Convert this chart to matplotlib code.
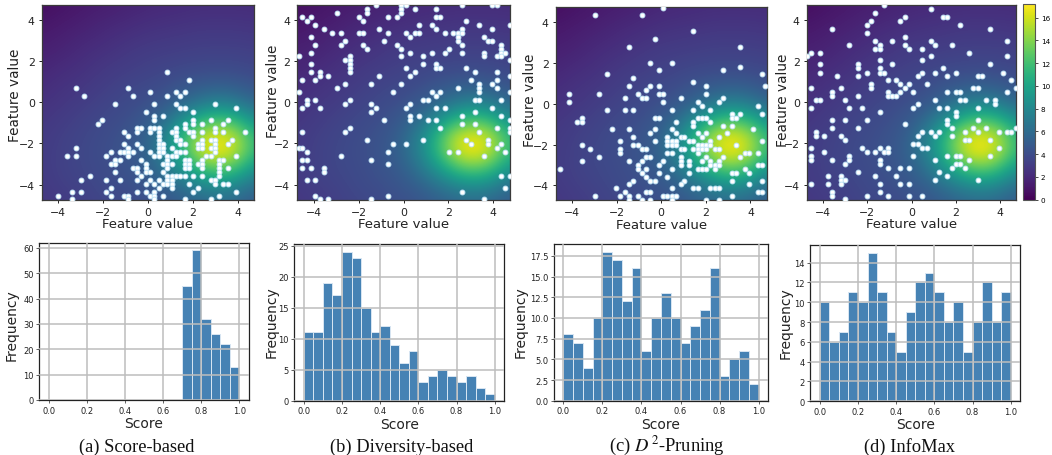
import matplotlib
matplotlib.use("Agg")
import matplotlib.pyplot as plt
import matplotlib.ticker as mticker
import numpy as np

W, H = 1052, 456
plt.rcParams['font.family'] = ['DejaVu Sans']
plt.rcParams['mathtext.fontset'] = 'stix'

# Estimated density field (coarse samples, top row = y 4.7, bottom row = y -4.7)
density = [
 [0.6,0.9,1.1,1.3,1.5,1.7,1.9,2.0,2.1,2.2,2.2,2.2,2.2],
 [1.0,1.2,1.4,1.7,1.9,2.1,2.3,2.4,2.5,2.6,2.6,2.6,2.5],
 [1.3,1.5,1.8,2.0,2.3,2.5,2.7,2.8,2.9,3.0,3.0,3.0,2.9],
 [1.6,1.8,2.1,2.4,2.6,2.9,3.1,3.2,3.3,3.4,3.4,3.4,3.3],
 [1.9,2.2,2.4,2.7,3.0,3.2,3.4,3.6,3.8,3.9,4.0,3.9,3.7],
 [2.2,2.5,2.7,3.0,3.3,3.6,3.8,4.1,4.6,5.0,5.2,5.0,4.5],
 [2.5,2.7,3.0,3.3,3.6,3.9,4.2,4.8,5.8,7.0,7.7,7.0,5.8],
 [2.7,3.0,3.3,3.6,3.9,4.2,4.9,6.2,8.6,11.0,12.0,11.0,8.4],
 [2.9,3.2,3.5,3.8,4.1,4.5,5.5,7.8,11.5,15.3,16.6,14.8,11.0],
 [3.0,3.3,3.6,3.9,4.2,4.6,5.7,8.0,11.8,15.8,17.1,15.2,11.2],
 [3.0,3.3,3.6,3.8,4.1,4.5,5.2,6.9,9.5,12.3,13.4,12.0,9.0],
 [2.9,3.2,3.4,3.7,4.0,4.2,4.7,5.5,6.8,8.2,8.9,8.1,6.4],
 [2.7,3.0,3.2,3.5,3.7,4.0,4.2,4.6,5.2,5.8,6.1,5.7,5.0],
]

# Selected samples: (y, [x, ...])
points_a = [
 (1.45,[.85]),(1.07,[1.85]),(.68,[-3.2,-.88]),(.48,[.09,1.25,1.64]),(.29,[-2.83,-.68,.86,1.44]),
 (-.10,[-1.46,.28,1.25,2.98]),(-.29,[1.44,1.64,3.94]),(-.49,[-.10,2.02]),(-.68,[.28,.67]),(-.86,[-2.04]),
 (-.88,[.28,2.02,2.80,3.56]),(-1.07,[-2.23,1.64,2.02,2.41,3.36]),
 (-1.25,[-.49,-.30,.09,.28,.48,1.25,1.64,2.98]),
 (-1.44,[-1.07,-.49,.09,.48,1.06,1.25,1.83,2.02,2.41,2.98,3.36,4.33]),
 (-1.64,[-.88,.48,1.25,2.02]),(-1.83,[.48,1.25,1.44,2.41,2.80,2.98,3.75]),
 (-2.02,[-1.07,-.49,.48,.67,1.44,1.64,2.22,2.41,2.98,3.56]),
 (-2.22,[-3.2,-.88,-.30,.48,.67,1.06,2.22,2.41,2.80,2.98]),
 (-2.41,[-1.65,-1.26,-1.07,-.88,-.68,.09,.48,.67,1.25,1.44,1.64,2.98]),
 (-2.61,[-3.6,-3.2,-1.85,-.88,.28,.48,.86,1.06,1.25,2.60,2.80,3.94]),
 (-2.80,[-1.46,-1.26,-.30,.86,1.64,1.83,2.41,3.17,3.36]),
 (-3.0,[-1.65,-1.46,-.10,.67,.86,1.06,1.64,1.83,2.22,2.41,3.17]),
 (-3.19,[-.68,-.49,-.10,.86,1.64,1.83,2.41,3.17,3.56]),
 (-3.38,[-1.46,-.49,-.10,.09,.67,3.17]),
 (-3.58,[-2.59,-.30,.86,1.06,1.25,1.44,1.64,2.02,2.41,3.17]),
 (-3.77,[-3.0,-1.85,-1.26,-.49,.09,.48,.86,1.06,2.80,2.98]),
 (-3.97,[-.10,.28,.67,.86,1.06,1.83,2.98,3.36,3.56]),
 (-4.16,[-1.65,.48,1.06,2.22]),
 (-4.35,[-3.4,-3.0,-1.85,-.49,-.10,.28,2.02,3.94]),
 (-4.55,[-4.0,-1.65,-1.07,-.88,.09,.28,.67,3.17]),
 (-4.70,[-3.4,-.88,.28,1.64,2.80]),
]
points_b = [
 (4.72,[-1.24,-.09,.10,2.61,3.96,4.15]),(4.54,[-1.63,-.09,.49,1.45]),(4.34,[-2.96,-1.63,-.09]),
 (4.15,[-4.5,-4.12,-2.0,-.67,-.28,1.45,1.64]),(3.95,[-4.31,-1.82,2.80]),(3.76,[-3.93,.68,1.26,3.38,4.73]),
 (3.57,[-3.56,-1.07,1.45,2.61,3.96]),(3.37,[-3.17,-2.79,-2.0,-1.82,-.67,.10,.49,.68,1.84,2.22,2.41,2.61]),
 (3.18,[-4.12,.30,2.41,3.57]),(2.98,[-2.59,-.86,2.41,3.76,3.96]),(2.79,[-3.93,-2.79,-1.82,-.28,2.61,4.34]),
 (2.59,[-1.63,-.09,2.03,4.34]),(2.41,[-4.12,.30,1.26,1.84,2.61,3.57,4.34,4.53]),
 (2.22,[-4.67,-2.4,-.09,.87,3.57,4.15,4.34]),(2.03,[-2.59,-2.4,4.73]),(1.83,[-4.12,-2.4,.87,1.45]),
 (1.65,[-2.4,.10,1.45,1.64,2.80]),(1.46,[-4.12,-3.73,-2.4,.49,3.19,4.15]),(1.26,[-3.73,-3.36,-1.07,.30,4.73]),
 (1.07,[-4.5,-3.93,2.99,4.15]),(.88,[-2.59,-1.44,-.09,3.38,3.96]),(.68,[-2.96,2.41,3.38,4.15]),
 (.49,[-4.67,-.47,1.26,1.64,3.38,4.73]),(.29,[1.45]),(.10,[-4.31,-3.93,-2.4,.87,1.07,3.19,3.38,4.34]),
 (-.10,[-4.31,-2.59,-1.44,.30]),(-.28,[-4.5,-3.73,-1.24,.10,1.45,1.84,3.96]),(-.47,[-1.44,3.19]),
 (-.66,[.30,.68,2.61,4.34]),(-.86,[-.86,.30,1.07,1.45,4.73]),(-1.07,[2.61,3.19]),(-1.25,[-2.4,1.64,4.15,4.73]),
 (-1.44,[-4.5,-2.59,3.38,4.73]),(-1.83,[-1.63,.87,2.80,3.76]),(-2.03,[-.47,.10,2.99,3.76,4.34]),
 (-2.22,[-4.67,-4.5,4.15]),(-2.41,[-4.31,-.67,2.03,2.41,4.53]),(-2.61,[-2.79,3.57]),(-2.79,[-4.5,-4.31,-1.44]),
 (-2.98,[-.67]),(-3.18,[-4.5,-4.12,-3.56]),(-3.37,[-3.56]),(-3.58,[4.34,4.73]),(-3.78,[-4.31,-3.93]),
 (-4.15,[4.53]),(-4.34,[2.61]),(-4.54,[-3.93,-.67]),(-4.70,[-3.73,-3.36,-1.44,3.57]),
]
points_c = [
 (4.68,[.09]),(4.32,[-2.98,-.87]),(3.56,[1.43]),(3.18,[-.3]),(2.79,[-1.45,3.54]),(2.0,[-.49,.48]),
 (1.81,[3.54]),(1.63,[-.1,2.78]),(1.44,[-2.42,4.51]),(1.24,[-1.25]),(1.04,[1.43]),
 (.86,[-1.45,-.48,-.09,2.01,4.66]),(.67,[-.67]),(.47,[-4.15,-2.79,-1.06,-.09,.09,2.01]),
 (.28,[-1.64,-.87,-.67,.87,2.78]),(.08,[-4.15,.09,1.63,2.58]),(-.11,[1.82,4.33]),
 (-.29,[-2.42,-1.64,-1.25,.48,1.43,2.21]),(-.49,[3.16,3.55,4.52]),
 (-.69,[-3.57,-.28,-.09,1.63,1.82,2.01,3.16,3.36]),(-.88,[-3.76,-3.57,.67,1.43,2.21]),(-1.08,[1.43,2.78,3.16]),
 (-1.26,[-2.22,-1.45,-.28,.48,4.13]),(-1.45,[-.48,.67,1.63,2.01,2.97]),(-1.63,[-1.25,.28,.87,1.04,1.82,2.58]),
 (-1.83,[-1.84,-.28,.28,.48,.67,1.24,1.43,2.21,4.52]),
 (-2.02,[-3.57,-1.25,-1.06,.28,.48,.67,1.63,1.82,2.01,2.21,3.36]),
 (-2.22,[-3.18,-1.84,-.87,-.67,.87,1.04,1.43,1.63,1.82,2.01,2.40,2.58]),
 (-2.41,[-1.84,.28,.48,1.63,3.75,3.94,4.33]),(-2.61,[-2.79,-.67,-.48,.87,2.01,2.78,3.55]),
 (-2.81,[-3.57,-1.45,-.87,.09,.87,1.24,1.82,2.21,2.58]),(-3.0,[-1.06,-.09,.87,1.24,2.21,2.40,2.58,4.33,4.52]),
 (-3.18,[-4.54]),(-3.2,[-1.06,-.67,.48,1.63,1.82,2.01,2.40,3.75]),(-3.39,[-.87,-.09,1.24,3.16,3.36,3.94]),
 (-3.59,[-.67,.28]),(-3.78,[-1.25,-.48,-.28,1.04,3.16,4.52]),(-3.95,[-1.45,.87,3.94]),
 (-4.14,[-2.01,.48,1.43,1.63,2.21,2.40,2.58]),(-4.34,[-1.64,-.67,-.48,4.33,4.52]),
 (-4.53,[-2.98,-1.84,-1.45,-1.06,.09,.28,.48,.67,3.16]),(-4.71,[-1.45,-.87,-.48,.48,2.01,2.58]),
]
points_d = [
 (4.7,[-1.25]),(4.54,[.86]),(4.34,[-1.64]),(4.15,[-.3,1.43,1.62]),(3.95,[-1.83,-.5]),(3.76,[-2.03,2.21]),
 (3.57,[-3.58,3.56]),(3.37,[-2.03]),(3.18,[-.3]),(2.98,[-1.64,-.87,.86,4.33]),(2.79,[-2.81,-1.44,-.3,1.05,1.82]),
 (2.59,[-1.64,-1.44,-.11,.48]),(2.41,[-4.53,-4.14,2.59]),(2.22,[-4.73,.86,4.33]),(2.03,[-1.44,.48]),
 (1.83,[-4.14,-2.41,-.87,3.56]),(1.64,[-2.41,-1.44,1.43]),(1.44,[-4.14,-2.03,-1.44,-1.25,.48,1.05,2.02,4.14]),
 (1.25,[-3.38,-2.41,.29,1.62,2.98,3.17]),(1.07,[-1.07,-.68,4.51]),(.88,[-1.83,-.5,-.11,.68]),
 (.68,[-4.53,-3.19,-1.83,-.3,2.78,2.98,4.71]),(.49,[-3.58,-1.07,-.5,.09,1.62,2.02,2.21,4.33]),
 (.29,[-3.58,-2.41,-1.07,-.87,-.68]),(.10,[-4.33,-4.14,-2.99,1.05,2.21,2.41,3.37,3.76]),(-.10,[.29,3.76]),
 (-.28,[-4.53,-2.81,-2.23,.09,1.25,1.62,2.98]),(-.49,[-1.44,2.02]),(-.68,[2.02]),
 (-.88,[-3.58,-2.99,-2.03,1.62,2.98]),(-1.07,[-.3,1.62]),(-1.26,[-3.58,-2.41,1.82,2.78,3.37,4.71]),
 (-1.44,[-4.33,.48,.86,1.25,2.41,2.98,3.95,4.33,4.51]),(-1.64,[-4.33,-3.95,-3.19,.29,1.05,1.82]),
 (-1.83,[-2.99,2.41,2.59,3.56]),(-2.03,[.09,.29]),(-2.22,[-4.53,-2.23,-1.44,-1.07,.48,.68,3.95]),
 (-2.41,[-3.95,-2.03,-1.64,-1.25,-1.07]),(-2.59,[-4.53,-2.81,.09,1.62,2.02,2.21,3.56]),
 (-2.79,[-4.53,-3.58,-2.81,-1.44,1.05,2.59]),(-2.98,[-2.99,-1.44,2.02,2.21]),(-3.18,[-1.07,-.5,-.11,1.82,2.41]),
 (-3.37,[-2.41,1.25]),(-3.57,[-3.76,-3.19,-1.64,-.68,1.62]),(-3.76,[-3.19,-2.99,1.05,2.98]),
 (-3.95,[-4.53,-3.76,-3.19,-1.44,-.5,-.11]),(-4.34,[-3.58,-1.44]),(-4.54,[-3.58,-2.03,-1.07,-.11,.48]),
 (-4.72,[-2.99]),
]

hist_a = [0]*14 + [45,59,32,26,22,13]
hist_b = [11,11,19,17,24,23,15,11,12,9,6,8,3,4,5,4,3,4,2,1]
hist_c = [8,7,4,10,18,17,12,16,6,10,13,10,7,9,11,16,3,5,6,2]
hist_d = [10,6,7,11,10,15,11,7,5,9,12,13,11,8,10,5,8,12,8,11]

captions = ['(a) Score-based', '(b) Diversity-based', r'(c) $D^{\,2}$-Pruning', '(d) InfoMax']
caption_cx = [137, 402, 667, 910]
heat_box = [(41.7,254,5.7,200.7),(297.3,509.7,5.7,200.7),(555.7,766.7,8,201.3),(806.7,1016.3,5.7,200.7)]
hist_box = [(39.3,248.7,244,401),(294.3,504.3,245.3,401.7),(553.7,768.3,245.3,401.7),(810.3,1020.3,246.3,402.3)]
heat_ylabel_xy = [(15,95),(272.7,91),(530,100),(783,100)]
hist_ylabel_xy = [(11.7,325),(271.7,322),(521,322),(786,323)]
hist_ticks = [range(0,61,10), range(0,26,5), [0,2.5,5,7.5,10,12.5,15,17.5], range(0,15,2)]
hist_fmt = ['%d','%d','%.1f','%d']

fig = plt.figure(figsize=(W/100, H/100), dpi=100)

def add_axes(box):
    l, r, t, b = box
    return fig.add_axes([l/W, 1-b/H, (r-l)/W, (b-t)/H])

def place_ylabel(ax, box, xy):
    l, r, t, b = box
    ax.yaxis.label.set_verticalalignment('center')
    ax.yaxis.set_label_coords((xy[0]-l)/(r-l), (b-xy[1])/(b-t))

LIM = 4.73
half = LIM * 13/12
dims = np.array(density)
for box, pts, lab in zip(heat_box, [points_a, points_b, points_c, points_d], heat_ylabel_xy):
    ax = add_axes(box)
    im = ax.imshow(dims, extent=(-half, half, -half, half), origin='upper', cmap='viridis',
                   vmin=0, vmax=17.2, interpolation='bicubic', aspect='auto')
    xs = [x for y, row in pts for x in row]
    ys = [y for y, row in pts for x in row]
    ax.scatter(xs, ys, s=12, facecolor='white', edgecolor='#c4e6f7', linewidth=0.7, zorder=3)
    ax.set_xlim(-LIM, LIM)
    ax.set_ylim(-LIM, LIM)
    ax.set_xticks([-4,-2,0,2,4])
    ax.set_yticks([-4,-2,0,2,4])
    ax.tick_params(labelsize=7.8, length=2.5, width=0.7, pad=2.5, colors='#222222')
    ax.set_xlabel('Feature value', fontsize=9.5, labelpad=0.5, color='#222222')
    ax.set_ylabel('Feature value', fontsize=9.8, color='#222222')
    place_ylabel(ax, box, lab)
    for s in ax.spines.values():
        s.set_color('#3a3a3a')
        s.set_linewidth(0.9)

cax = add_axes((1023.3,1035.3,5,200.5))
cb = fig.colorbar(im, cax=cax)
cb.set_ticks(range(0,17,2))
cb.ax.tick_params(labelsize=5.2, length=2, width=0.5, pad=2)
cb.outline.set_edgecolor('#555555')

edges = np.linspace(0, 1, 21)
for box, vals, ticks, fmt, cap, cx, lab in zip(hist_box, [hist_a,hist_b,hist_c,hist_d], hist_ticks, hist_fmt,
                                               captions, caption_cx, hist_ylabel_xy):
    ax = add_axes(box)
    ax.bar(edges[:-1], vals, width=0.05, align='edge', color='#4682B4', edgecolor='#d8e6f2', linewidth=0.7)
    ax.set_xlim(-0.05, 1.05)
    ax.set_ylim(0, max(vals)*1.05)
    ax.set_xticks(np.arange(0, 1.01, 0.2))
    ax.set_yticks(list(ticks))
    ax.yaxis.set_major_formatter(mticker.FormatStrFormatter(fmt))
    ax.xaxis.set_major_formatter(mticker.FormatStrFormatter('%.1f'))
    ax.grid(True, color='#bdbdbd', linewidth=1.1)
    ax.set_axisbelow(False)
    ax.tick_params(labelsize=6, length=2, width=0.5, pad=2, colors='#222222')
    ax.set_xlabel('Score', fontsize=10, labelpad=1, color='#222222')
    ax.set_ylabel('Frequency', fontsize=10, color='#222222')
    place_ylabel(ax, box, lab)
    for s in ax.spines.values():
        s.set_color('#222222')
        s.set_linewidth(0.9)
    fig.text(cx/W, 1-451.5/H, cap, ha='center', va='baseline', fontsize=13.3,
             family='Liberation Serif', color='#111111')

fig.savefig('out.png', dpi=100)
